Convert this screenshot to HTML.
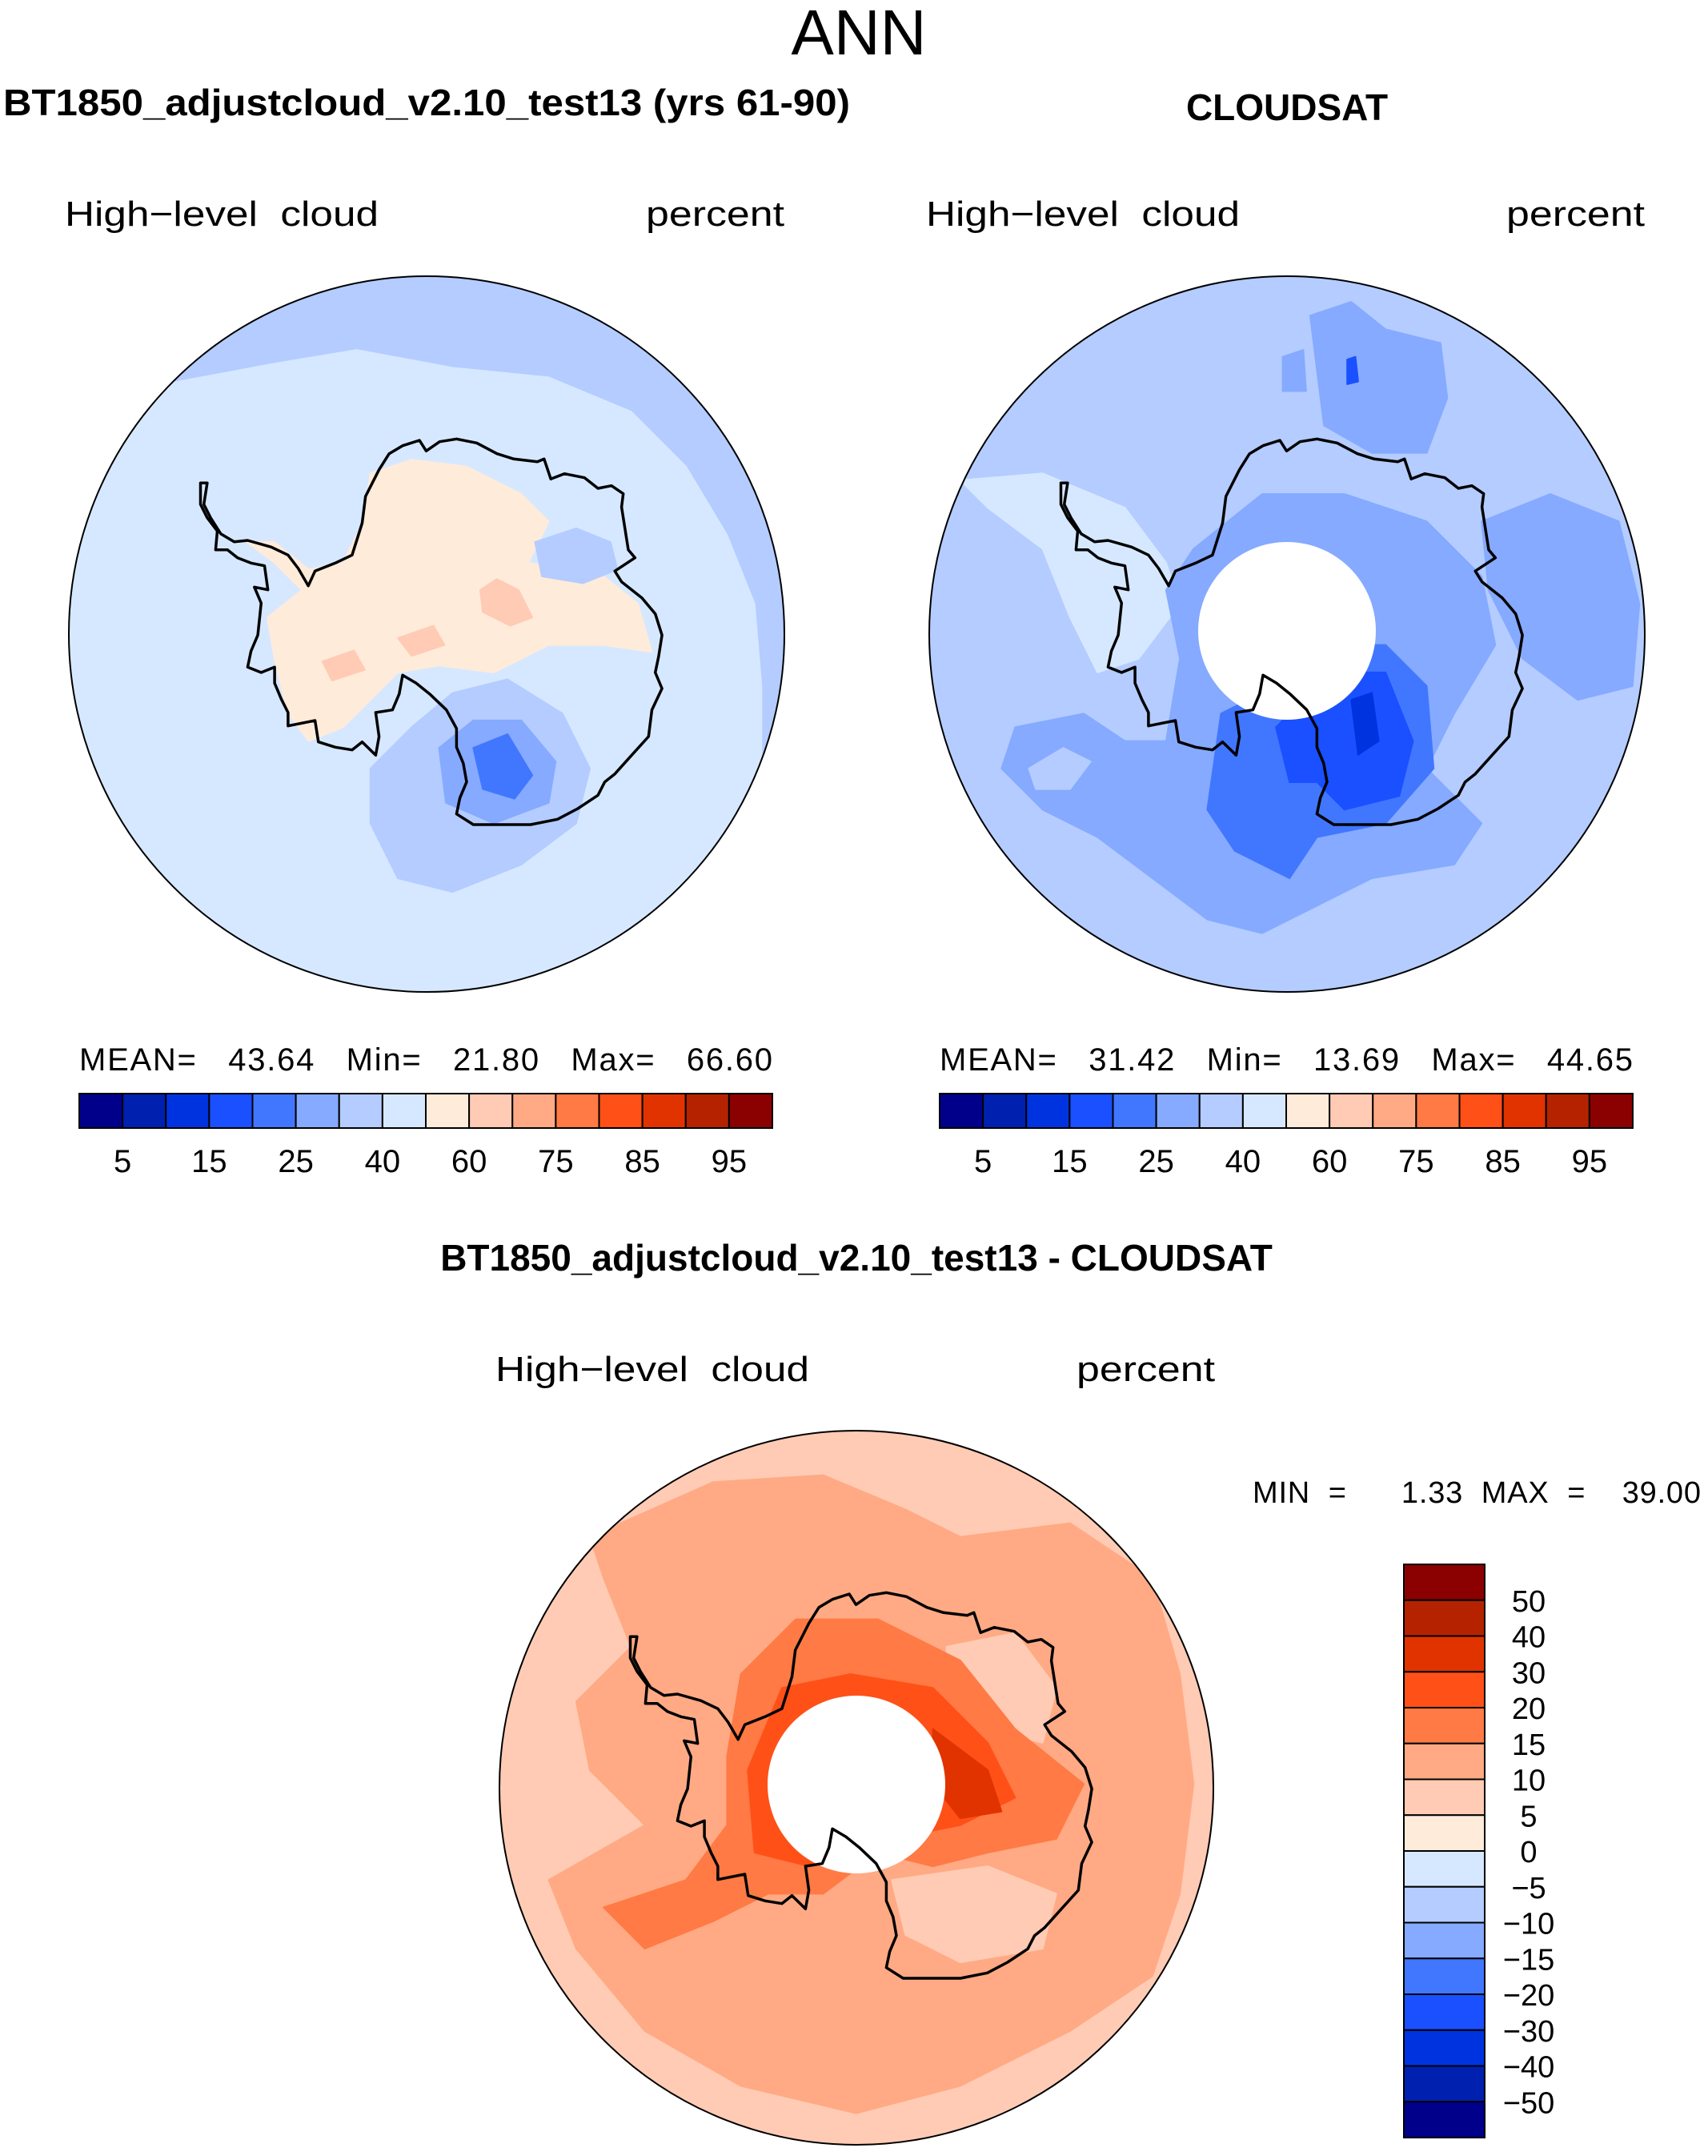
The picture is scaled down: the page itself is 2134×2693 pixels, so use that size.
<!DOCTYPE html>
<html><head><meta charset="utf-8"><style>
html,body{margin:0;padding:0;background:#fff}
svg{display:block}
text{font-family:"Liberation Sans",sans-serif;fill:#000;white-space:pre}
</style></head><body>
<svg id="fig" width="2134" height="2693" viewBox="0 0 2134 2693" xmlns="http://www.w3.org/2000/svg" xml:space="preserve">
<defs>
<clipPath id="cL"><circle cx="533" cy="792" r="447"/></clipPath>
<clipPath id="cR"><circle cx="1608" cy="792" r="447"/></clipPath>
<clipPath id="cB"><circle cx="1070" cy="2233" r="446"/></clipPath>
</defs>
<text x="1073" y="68" font-size="80" text-anchor="middle">ANN</text>
<text x="4" y="144" font-size="46" font-weight="bold" textLength="1058" lengthAdjust="spacingAndGlyphs">BT1850_adjustcloud_v2.10_test13 (yrs 61-90)</text>
<text x="1608" y="150" font-size="46" font-weight="bold" text-anchor="middle">CLOUDSAT</text>
<text x="81" y="282" font-size="44" textLength="392" lengthAdjust="spacingAndGlyphs">High−level  cloud</text>
<text x="807" y="282" font-size="44" textLength="173" lengthAdjust="spacingAndGlyphs">percent</text>
<text x="1157" y="282" font-size="44" textLength="392" lengthAdjust="spacingAndGlyphs">High−level  cloud</text>
<text x="1882" y="282" font-size="44" textLength="173" lengthAdjust="spacingAndGlyphs">percent</text>
<text x="99" y="1337" font-size="40" textLength="866" lengthAdjust="spacing">MEAN=   43.64   Min=   21.80   Max=   66.60</text>
<text x="1174" y="1337" font-size="40" textLength="866" lengthAdjust="spacing">MEAN=   31.42   Min=   13.69   Max=   44.65</text>
<text x="1070" y="1587" font-size="46" font-weight="bold" text-anchor="middle">BT1850_adjustcloud_v2.10_test13 - CLOUDSAT</text>
<text x="619" y="1725" font-size="44" textLength="392" lengthAdjust="spacingAndGlyphs">High−level  cloud</text>
<text x="1345" y="1725" font-size="44" textLength="173" lengthAdjust="spacingAndGlyphs">percent</text>
<text x="1565" y="1877" font-size="38" textLength="560" lengthAdjust="spacing">MIN  =      1.33  MAX  =    39.00</text>
<g id="maps"></g>
<g id="bars"></g>
</svg>
<script>
const colors=["#00008B","#0020B0","#0033E0","#1A50FF","#4177FF","#85AAFF","#B4CCFF","#D6E8FF","#FFEBDA","#FFCBB4","#FFAA84","#FF7A44","#FF5018","#E03300","#B52200","#8B0000"];
const absTicks=["5","15","25","40","60","75","85","95"];
const diffTicks=["50","40","30","20","15","10","5","0","−5","−10","−15","−20","−30","−40","−50"];
const S=2134/1245;
const NS="http://www.w3.org/2000/svg";
function mk(tag,attrs,parent){const e=document.createElementNS(NS,tag);for(const k in attrs)e.setAttribute(k,attrs[k]);parent.appendChild(e);return e;}
function pstr(pts,f){return pts.map((p,i)=>(i?'L':'M')+f(p)[0].toFixed(1)+' '+f(p)[1].toFixed(1)).join(' ')+'Z';}
const disp=p=>[p[0]*S,p[1]*S];
const maps=document.getElementById('maps');
const leftRegions=[
[7,[[40,470],[60,350],[120,280],[200,265],[260,255],[330,268],[400,275],[460,300],[500,340],[530,390],[550,440],[555,500],[555,560],[540,620],[480,760],[311,760],[40,760]]],
[8,[[270,345],[300,335],[340,340],[380,360],[400,380],[385,410],[440,420],[465,440],[475,475],[440,470],[400,470],[360,490],[320,485],[290,490],[270,510],[250,530],[225,540],[210,520],[200,480],[195,450],[220,430],[200,410],[180,395],[200,395],[225,415],[250,410],[265,380]]],
[9,[[350,430],[362,422],[378,430],[388,450],[372,456],[352,446]]],
[9,[[290,465],[316,456],[324,470],[300,478]]],
[9,[[235,482],[258,474],[266,488],[242,496]]],
[6,[[390,395],[420,385],[445,395],[450,415],[425,425],[395,420]]],
[6,[[270,560],[300,530],[330,505],[370,495],[410,520],[430,560],[420,600],[380,630],[330,650],[290,640],[270,600]]],
[5,[[320,545],[345,525],[380,525],[405,555],[400,585],[360,600],[325,585]]],
[4,[[345,545],[370,535],[388,565],[375,582],[352,575]]]
];
const rightRegions=[
[7,[[700,350],[760,345],[820,370],[850,410],[860,440],[830,480],[800,490],[780,450],[760,400],[720,370]]],
[5,[[955,230],[985,220],[1010,240],[1050,250],[1055,290],[1040,330],[1000,330],[965,310],[960,270]]],
[5,[[935,260],[950,255],[952,285],[935,285]]],
[5,[[1080,380],[1130,360],[1180,380],[1195,440],[1190,500],[1150,510],[1110,480],[1085,430]]],
[5,[[870,400],[920,360],[980,360],[1040,380],[1080,420],[1090,470],[1060,520],[1040,560],[1080,600],[1060,630],[1000,640],[960,660],[920,680],[880,670],[840,640],[800,610],[760,590],[730,560],[740,530],[790,520],[820,540],[850,540],[860,480],[850,430]]],
[6,[[750,560],[775,545],[795,555],[780,575],[755,575]]],
[4,[[890,520],[930,500],[960,470],[1010,470],[1040,500],[1045,560],[1010,600],[960,610],[940,640],[900,620],[880,590]]],
[3,[[930,530],[970,490],[1010,490],[1030,540],[1020,580],[980,590],[960,570],[940,570]]],
[2,[[985,510],[1000,505],[1005,540],[990,550]]],
[3,[[982,262],[988,260],[990,278],[982,280]]]
];
const bottomRegions=[
[10,[[430,1120],[520,1080],[600,1075],[660,1100],[700,1120],[780,1110],[840,1150],[860,1220],[870,1300],[860,1380],[840,1440],[780,1480],[700,1520],[624,1540],[540,1520],[470,1480],[420,1420],[400,1370],[470,1330],[430,1290],[420,1240],[460,1200],[440,1150]]],
[9,[[690,1200],[740,1190],[770,1230],[760,1270],[720,1260],[690,1240]]],
[9,[[650,1370],[720,1360],[770,1380],[760,1420],[700,1430],[660,1410]]],
[11,[[540,1220],[580,1180],[640,1180],[700,1210],[740,1260],[790,1300],[770,1340],[720,1350],[680,1360],[640,1350],[600,1380],[560,1380],[520,1400],[470,1420],[440,1390],[500,1370],[530,1330],[530,1280]]],
[12,[[570,1230],[620,1220],[680,1230],[720,1270],[740,1310],[700,1330],[650,1340],[590,1360],[550,1350],[545,1290]]],
[13,[[680,1260],[720,1290],[730,1320],[700,1325],[680,1300]]]
];
const coast=[[440,635],[460,580],[520,550],[570,520],[600,400],[610,300],[650,200],[680,140],[720,110],[770,90],[790,130],[830,95],[880,85],[940,100],[1000,140],[1050,160],[1120,170],[1140,160],[1160,235],[1200,215],[1260,230],[1300,270],[1340,260],[1375,290],[1370,340],[1380,420],[1390,500],[1410,530],[1350,580],[1370,620],[1430,680],[1470,740],[1490,820],[1480,900],[1470,960],[1490,1020],[1460,1100],[1450,1200],[1400,1270],[1350,1340],[1320,1370],[1300,1420],[1240,1470],[1180,1510],[1100,1530],[1000,1530],[930,1530],[880,1490],[890,1430],[910,1370],[900,1300],[880,1240],[880,1170],[850,1100],[800,1040],[760,1000],[720,970],[710,1040],[690,1100],[640,1110],[650,1200],[640,1270],[600,1220],[570,1250],[520,1240],[470,1220],[460,1140],[380,1160],[380,1110],[360,1060],[340,1000],[340,940],[300,960],[260,940],[270,880],[290,820],[300,700],[280,640],[320,650],[310,560],[270,550],[230,530],[200,500],[165,500],[170,430],[140,380],[120,330],[120,250],[140,250],[130,330],[150,380],[180,440],[220,470],[260,465],[330,490],[380,520],[410,570]];
function drawMap(name,clip,cx,cy,r,base,regions,hole){
  const g=mk('g',{'clip-path':'url(#'+clip+')'},maps);
  
  
  mk('rect',{x:cx-r,y:cy-r,width:2*r,height:2*r,fill:colors[base]},g);
  regions.forEach(([c,pts])=>{const p=mk('path',{d:pstr(pts,disp),fill:colors[c],'stroke':colors[c],'stroke-width':2,'stroke-linejoin':'round'},g);
    
    });
  if(hole){const h=mk('circle',{cx:cx,cy:cy-4,r:111,fill:'#fff'},g);
    
    }
  const cf=p=>[200+p[0]/2.376-533+cx,520+p[1]/3-792+cy];
  const cl=mk('path',{d:pstr(coast,cf),fill:'none',stroke:'#000','stroke-width':3.5,'stroke-linejoin':'round'},g);
  
  
  const o=mk('circle',{cx:cx,cy:cy,r:r,fill:'none',stroke:'#000','stroke-width':2},maps);
  
  
}
drawMap('model-map','cL',533,792,447,6,leftRegions,false);
drawMap('obs-map','cR',1608,792,447,6,rightRegions,true);
drawMap('diff-map','cB',1070,2233,446,9,bottomRegions,true);
const bars=document.getElementById('bars');
function hbar(name,x0,y0,w,h){
  const g=mk('g',{},bars);
  
  
  const bw=w/colors.length;
  colors.forEach((c,i)=>{const r=mk('rect',{x:x0+i*bw,y:y0,width:bw,height:h,fill:c,stroke:'#000','stroke-width':2},g);
    
    });
  absTicks.forEach((t,k)=>{const i=2*k+1;const tx=mk('text',{x:x0+i*bw,y:y0+h+55,'font-size':40,'text-anchor':'middle'},g);tx.textContent=t;
    
    });
}
hbar('model-colorbar',99,1366,866,43);
hbar('obs-colorbar',1174,1366,866,43);
(function(){
  const x0=1754,y0=1954,w=101,h=716;
  const g=mk('g',{},bars);
  
  
  const n=colors.length,bh=h/n;
  colors.slice().reverse().forEach((c,i)=>{const r=mk('rect',{x:x0,y:y0+i*bh,width:w,height:bh,fill:c,stroke:'#000','stroke-width':2},g);
    
    });
  diffTicks.forEach((t,i)=>{const tx=mk('text',{x:1910,y:y0+(i+1)*bh+14,'font-size':38,'text-anchor':'middle'},g);tx.textContent=t;
    
    });
})();
</script>
</body></html>
